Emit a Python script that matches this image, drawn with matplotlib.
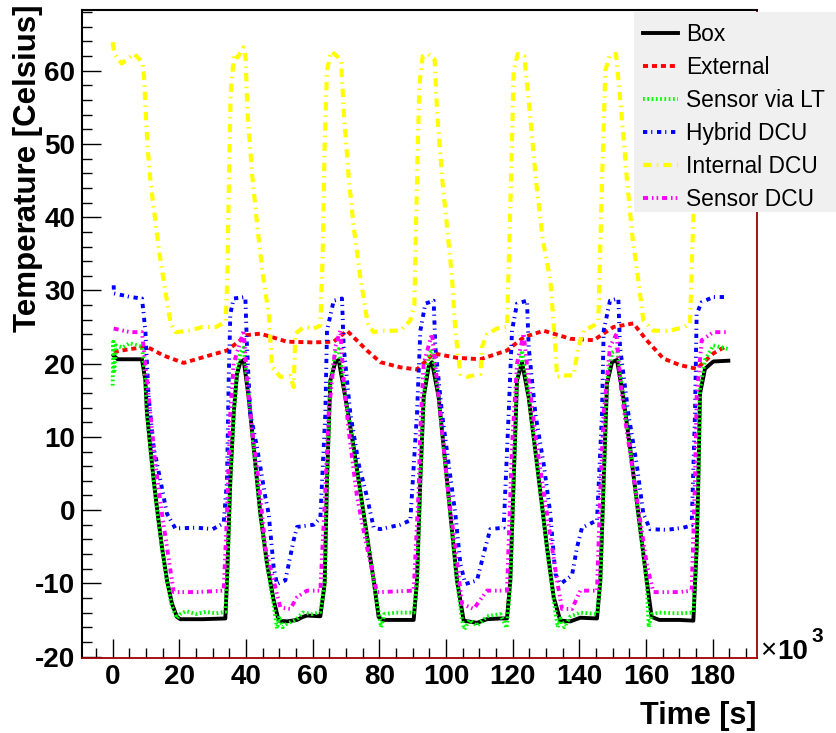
import matplotlib
matplotlib.use("Agg")
import matplotlib.pyplot as plt
from matplotlib.ticker import MultipleLocator
from matplotlib.patches import Rectangle

plt.rcParams['font.family'] = ['Liberation Sans', 'DejaVu Sans']
plt.rcParams['axes.unicode_minus'] = False

# time in units of 10^3 s
t_box = [0.3, 1.5, 5, 8.8, 9.8, 10.3, 11.3, 12.3, 13.5, 14.8, 16.3, 17.8, 19.3, 20.3, 27, 33.8,
         34.3, 35.3, 36.3, 37.3, 38.3, 39.3, 40.8, 42.3, 44.3, 46.3, 48.3, 49.8, 52.3, 55.3, 57, 58.3, 62.3,
         63.6, 64.3, 65.3, 66.8, 67.8, 69.8, 72.3, 75.3, 78.3, 79.8, 81, 85, 90.3,
         91.3, 92.3, 93.3, 94.8, 95.8, 97.8, 99.3, 101.3, 103.3, 105.3, 109.3, 112.3, 116.3, 118.3,
         119.3, 120.3, 121.3, 122.8, 124.8, 127.3, 130.3, 132.3, 134.3, 137.3, 140.3, 145.3,
         146.3, 147.3, 148.3, 149.8, 151.3, 153.2, 155.2, 157.7, 160.2, 161.7, 164, 170, 174.2,
         175.2, 175.7, 176.2, 177.7, 180.2, 184.7]
box = [21.1, 20.6, 20.6, 20.6, 17.7, 13.2, 8.6, 4.1, -0.5, -5.1, -9.6, -12.8, -14.6, -14.9, -14.9, -14.8,
       -9.6, 4.1, 13.2, 18.6, 20.2, 20.5, 15.4, 8.6, -0.5, -7.3, -12.3, -15.1, -15.2, -15.0, -14.6, -14.4, -14.5,
       -10.0, 4.1, 17.7, 20.2, 20.5, 15.4, 8.6, -0.5, -9.6, -14.6, -15.0, -15.0, -15.0,
       -9.6, 4.1, 15.4, 19.6, 20.2, 15.4, 8.6, -0.5, -9.6, -15.1, -15.4, -14.9, -14.8, -14.8,
       -9.6, 4.1, 17.7, 20.2, 15.4, 6.3, -5.1, -11.9, -15.1, -15.2, -14.7, -14.8,
       -9.6, 4.1, 17.3, 20.2, 20.5, 15.4, 8.6, -0.5, -9.6, -14.6, -15.0, -15.0, -15.1,
       -5.1, 4.1, 15.9, 19.3, 20.3, 20.4]

t_ext = [0.3, 5.3, 10.3, 15.3, 21.3, 27.3, 34.3, 40.3, 44.3, 52.3, 60.3, 66.3, 70.3, 76.3, 80.3,
         86.3, 91.3, 96.3, 103.3, 110.3, 118.3, 123.3, 129.3, 137.3, 144.3, 150.2, 156.2, 160.2,
         165.2, 170.2, 175.2, 180.2, 183.7]
ext = [21.6, 22.0, 22.3, 21.1, 20.1, 20.9, 21.8, 23.9, 24.1, 23.0, 22.9, 23.0, 24.5, 21.8, 20.2,
       19.5, 19.2, 21.4, 20.8, 20.6, 21.8, 23.6, 24.5, 23.4, 23.2, 25.0, 25.5, 23.2,
       20.7, 19.8, 19.3, 21.4, 22.3]

t_lt = [0, 0.2, 0.5, 1, 3, 5, 8.8, 9.8, 10.3, 11.3, 12.3, 13.5, 14.8, 16.3, 17.8, 19.3, 20.3, 22, 25, 28, 31, 33.8,
        34.3, 35.3, 36.3, 37.3, 38.3, 39.3, 40.8, 42.3, 44.3, 46.3, 48.3, 49.3, 50, 51, 52.3, 55, 57, 60, 62.3,
        63.6, 64.3, 65.3, 66.8, 67.8, 69.8, 72.3, 75.3, 78.3, 79.8, 80.5, 81.5, 85, 90.3,
        91.3, 92.3, 93.3, 94.8, 95.8, 97.8, 99.3, 101.3, 103.3, 104.8, 105.5, 107, 109.3, 112.3, 116.3, 118.2, 118.6,
        119.3, 120.3, 121.3, 122.8, 124.8, 127.3, 130.3, 132.3, 133.5, 134.3, 135.5, 137.3, 140.3, 145.3,
        146.3, 147.3, 148.3, 149.8, 151.3, 153.2, 155.2, 157.7, 160.2, 160.8, 161.7, 164, 170, 174.2,
        175.2, 175.7, 176.2, 177.7, 180.2, 184.7]
lt = [17.0, 23.0, 19.0, 22.5, 22.2, 22.8, 22.3, 18.0, 13.5, 8.5, 4.0, -0.7, -5.3, -9.8, -13.2, -14.8, -14.2, -13.8, -14.2, -13.9, -14.1, -13.9,
      -9.8, 4.0, 13.0, 19.0, 21.5, 22.2, 15.6, 8.4, -0.7, -7.5, -13.0, -16.2, -14.5, -16.0, -15.5, -15.0, -14.0, -14.2, -13.9,
      -9.8, 4.0, 17.5, 21.5, 22.0, 15.6, 8.4, -0.7, -9.8, -14.0, -16.0, -14.2, -14.0, -14.0,
      -9.8, 4.0, 15.6, 21.0, 22.0, 15.6, 8.4, -0.7, -9.8, -15.0, -16.3, -15.0, -15.8, -14.5, -14.2, -16.1, -14.0,
      -9.8, 4.0, 18.0, 21.8, 15.6, 6.2, -5.3, -12.2, -16.0, -14.8, -16.0, -14.5, -14.0, -14.2,
      -9.8, 4.0, 17.5, 21.5, 22.0, 15.6, 8.4, -0.7, -9.8, -16.0, -14.2, -14.0, -14.1, -14.0,
      -5.3, 4.0, 16.5, 20.5, 22.5, 22.0]

t_hyb = [0.3, 0.4, 5.3, 8.8, 9.8, 10.8, 12.3, 14.3, 16.3, 18.8, 25.3, 30, 33.3,
         34.3, 34.8, 35.3, 36.3, 39.8, 40.3, 41.3, 43.3, 45.8, 46.8, 48.3, 49.3, 51.8, 54.3, 55.3, 60.3, 62.3,
         63.8, 64.3, 66.3, 68.8, 69.3, 71.3, 73.8, 76.3, 78.3, 80.3, 86.3, 89.3,
         91.3, 92.3, 93.8, 96.3, 96.8, 98.8, 100.8, 102.8, 104.3, 105.8, 109.3, 111.8, 113.3, 117.3,
         118.8, 119.8, 121.3, 124.3, 124.8, 126.8, 129.3, 131.3, 132.8, 134.3, 137.8, 139.3, 140.8, 145.3,
         146.8, 147.3, 149.2, 151.7, 152.2, 154.7, 157.2, 159.2, 161.2, 166.2, 171.2, 173.7,
         174.7, 175.2, 176.7, 180.2, 184.2]
hyb = [30.7, 29.6, 29.1, 28.9, 24.5, 15.4, 8.6, 4.1, -0.5, -2.5, -2.4, -2.6, -1.8,
       4.1, 17.7, 26.8, 28.9, 29.1, 22.3, 13.2, 8.6, 1.8, -0.5, -7.8, -10.1, -9.6, -4.1, -2.3, -2.0, -1.1,
       13.2, 24.5, 28.6, 28.9, 22.3, 13.2, 6.3, 1.8, -2.4, -2.6, -2.0, -1.4,
       13.2, 24.5, 28.2, 28.6, 22.3, 13.2, 6.3, -0.5, -7.3, -10.1, -9.6, -5.1, -2.6, -2.4,
       13.2, 24.5, 28.2, 28.6, 22.3, 13.2, 6.3, -0.5, -8.7, -10.1, -8.9, -5.1, -2.4, -1.4,
       13.2, 24.5, 28.6, 28.9, 22.3, 13.2, 6.3, -0.5, -2.6, -2.7, -2.4, -2.1,
       13.2, 26.8, 28.4, 29.1, 29.1]

t_int = [0, 0.5, 2.7, 6.4, 8.9, 9.4, 10.4, 11.4, 12.4, 13.9, 15.4, 17.4, 18.9, 22.9, 26.9, 30.9, 33.9,
         34.4, 34.9, 35.4, 36.4, 37.5, 39.2, 39.9, 40.4, 41.9, 43.4, 44.9, 46.9, 47.8, 50.3, 53.3, 54.3, 54.8,
         57.3, 60.3, 62.3, 63.0, 63.6, 64.3, 65.5, 66.5, 68.5, 69.3, 70.8, 72.3, 74.3, 76.5, 78.3,
         80.3, 86.3, 89.3, 90.5, 91.3, 92.0, 93.0, 94.5, 96.6, 97.3, 98.8, 100.3, 101.8, 102.8, 104.3, 106.3,
         110.3, 110.8, 112.3, 115.3, 118.3, 119.5, 120.3, 121.5, 123.5, 125.0, 127.0, 129.0, 131.3, 132.8,
         133.3, 136.3, 138.3, 139.7, 141.3, 144.3, 145.7, 146.8, 147.8, 149.0, 151.0, 152.5, 154.3, 156.0,
         157.7, 159.2, 162.2, 167.2, 171.2, 173.2, 174.2, 175.0, 176.0, 185.0]
internal = [63.9, 62.3, 61.0, 62.3, 61.2, 59.2, 50.0, 44.6, 41.0, 35.5, 31.0, 25.5, 24.3, 24.5, 25.0, 25.0, 25.7,
            31.8, 45.5, 56.9, 62.3, 61.8, 63.2, 61.7, 54.6, 45.5, 38.7, 32.7, 26.4, 19.5, 18.2, 18.3, 16.8, 24.1,
            25.0, 24.8, 25.2, 35.0, 50.0, 60.0, 62.6, 62.3, 61.5, 54.6, 45.5, 38.7, 31.8, 25.5, 24.3,
            24.5, 24.5, 25.9, 28.0, 45.0, 58.0, 62.0, 62.3, 61.5, 54.6, 45.5, 38.7, 31.8, 24.5, 18.6, 18.2,
            18.6, 22.3, 24.0, 24.8, 25.0, 45.0, 60.0, 62.3, 62.0, 55.0, 45.0, 37.0, 31.4, 22.3,
            18.2, 18.4, 18.4, 22.3, 24.5, 25.2, 25.9, 45.0, 60.0, 62.0, 62.3, 55.0, 45.0, 37.0,
            31.4, 25.9, 24.5, 24.5, 25.0, 25.4, 40.0, 58.0, 62.0, 62.0]

t_sdcu = [0.3, 5.3, 8.8, 10.3, 11.3, 12.8, 14.8, 16.3, 18.3, 25.3, 33.3,
          34.3, 35.3, 36.3, 39.3, 40.3, 41.8, 43.8, 45.8, 48.3, 50.3, 53.3, 55.3, 58.3, 62.3,
          63.8, 64.8, 66.8, 68.3, 69.3, 70.8, 73.3, 76.3, 79.3, 80.3, 90.3,
          91.8, 92.3, 93.3, 95.8, 97.3, 98.8, 100.8, 102.8, 104.8, 108.3, 112.3, 115.3, 118.3,
          119.8, 121.3, 123.3, 124.8, 127.3, 130.3, 133.3, 134.8, 137.8, 140.3, 145.3,
          146.3, 147.3, 149.2, 151.2, 152.2, 154.2, 157.2, 160.2, 162.2, 170.2, 173.7,
          174.7, 175.2, 176.7, 180.2, 184.2]
sdcu = [24.8, 24.3, 24.3, 17.7, 13.2, 6.3, -0.5, -5.1, -11.2, -11.2, -11.0,
        -0.5, 13.2, 20.0, 24.5, 17.7, 10.9, 4.1, -5.1, -9.6, -13.3, -13.5, -11.9, -11.0, -11.0,
        2.8, 13.2, 22.3, 24.5, 17.7, 10.9, 1.8, -5.1, -11.2, -11.2, -11.0,
        2.8, 10.9, 20.0, 24.1, 17.7, 10.9, 1.8, -5.1, -12.8, -13.5, -11.0, -11.0, -11.0,
        8.6, 20.0, 24.1, 17.7, 8.6, -0.5, -9.6, -13.5, -13.5, -11.0, -11.0,
        2.8, 13.2, 22.3, 24.1, 17.7, 10.9, 1.8, -7.3, -11.2, -11.2, -11.0,
        4.1, 15.4, 23.2, 24.3, 24.3]

labels = ["Box", "External", "Sensor via LT", "Hybrid DCU", "Internal DCU", "Sensor DCU"]

fig = plt.figure(figsize=(8.36, 7.33), dpi=100)
ax = fig.add_axes([82 / 836, 1 - 658 / 733, (757 - 82) / 836, (658 - 10) / 733])

lw = 2.8
h1, = ax.plot(t_box, box, color='black', lw=lw, solid_joinstyle='round')
h2, = ax.plot(t_ext, ext, color='#ff0000', lw=lw, linestyle=(0, (1.3, 1.0)))
h3, = ax.plot(t_lt, lt, color='#00ff00', lw=lw, linestyle=(0, (0.45, 0.65)))
h4, = ax.plot(t_hyb, hyb, color='#0000ff', lw=lw, linestyle=(0, (1.1, 1.0, 0.3, 1.2)))
h5, = ax.plot(t_int, internal, color='#ffff00', lw=3.0, linestyle=(0, (2.0, 1.3, 0.35, 1.2)))
h6, = ax.plot(t_sdcu, sdcu, color='#ff00ff', lw=lw, linestyle=(0, (1.3, 1.0, 0.4, 0.8, 0.4, 1.0)))

ax.set_xlim(-9.2, 193.3)
ax.set_ylim(-20.2, 68.3)
ax.xaxis.set_major_locator(MultipleLocator(20))
ax.xaxis.set_minor_locator(MultipleLocator(5))
ax.yaxis.set_major_locator(MultipleLocator(10))
ax.yaxis.set_minor_locator(MultipleLocator(2))
ax.tick_params(which='both', direction='in', width=1, colors='black')
ax.tick_params(which='major', length=14)
ax.tick_params(which='minor', length=7)
ax.tick_params(axis='x', pad=4, labelsize=20)
ax.tick_params(axis='y', pad=5, labelsize=20)
for lab in ax.get_xticklabels() + ax.get_yticklabels():
    lab.set_fontweight('bold')

ax.spines['left'].set_linewidth(1.5)
ax.spines['top'].set_linewidth(1.5)
ax.spines['right'].set_color('#a00000')
ax.spines['bottom'].set_color('#a00000')
ax.spines['right'].set_linewidth(1.3)
ax.spines['bottom'].set_linewidth(1.3)

fig.text(757 / 836, 1 - 724 / 733, "Time [s]", ha='right', va='baseline',
         fontsize=22, fontweight='bold')
fig.text(28 / 836, 1 - 5 / 733, "Temperature [Celsius]", ha='center', va='top',
         rotation=90, fontsize=22.5, fontweight='bold')
fig.text(760 / 836, 1 - 658 / 733, "\u00d7", ha='left', va='baseline', fontsize=20)
fig.text(777 / 836, 1 - 659 / 733, "10", ha='left', va='baseline', fontsize=20, fontweight='bold')
fig.text(811 / 836, 1 - 642 / 733, "3", ha='left', va='baseline', fontsize=15, fontweight='bold')

# legend box
fig.patches.append(Rectangle((634 / 836, 1 - 212 / 733), 202 / 836, 200 / 733,
                             transform=fig.transFigure, facecolor='#f0f0f0',
                             edgecolor='none', zorder=3))
fig.legend([h1, h2, h3, h4, h5, h6], labels, loc='upper left',
           bbox_to_anchor=(643 / 836, 1 - 23 / 733), frameon=False, fontsize=16.4,
           handlelength=1.54, handletextpad=0.35, labelspacing=0.44, borderpad=0,
           borderaxespad=0)

fig.savefig('out.png', dpi=100)
